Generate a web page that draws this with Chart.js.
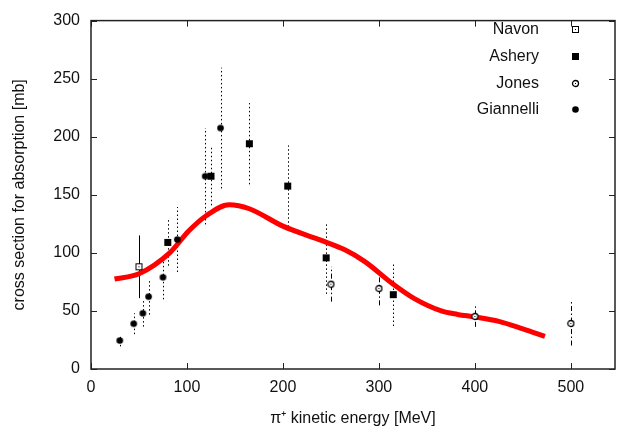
<!DOCTYPE html>
<html>
<head>
<meta charset="utf-8">
<script src="https://cdn.jsdelivr.net/npm/chart.js@4/dist/chart.umd.min.js"></script>
<style>
  html, body { margin: 0; padding: 0; background: #fff; }
  #wrap { width: 620px; height: 432px; position: relative; }
</style>
</head>
<body>
<div id="wrap"><canvas id="absChart"></canvas></div>
<script>
// pion absorption cross section data
const navonE = [50];
const navonS = [88];
const navonErr = [27];

const asheryE = [80, 125, 165, 205, 245, 315];
const asheryS = [109, 166, 194, 157.5, 95.7, 64];
const asheryErr = [20, 25, 35, 35, 31, 27];

const jonesE = [250, 300, 400, 500];
const jonesS = [73, 69.3, 45.3, 39.2];
const jonesErr = [15, 14.5, 9, 19];

const giannelliE = [30, 44.5, 54, 60, 75, 90, 119, 135];
const giannelliS = [24.5, 39, 48, 62.3, 79, 111.5, 166, 207.5];
const giannelliErr = [5, 9, 11.5, 15.5, 19, 28, 41.5, 52];

// model curve (red)
const modelE = [24.5, 50, 82, 102, 120, 144, 165, 200, 240, 265, 285, 315, 337, 365, 382, 400, 425, 450, 473];
const modelS = [77.5, 82, 100, 119, 132, 141.5, 138, 123, 110.7, 102.4, 92.7, 73, 60.6, 50, 47, 44.8, 41, 34.5, 28];

const xTicks = [0, 100, 200, 300, 400, 500];
const yTicks = [0, 50, 100, 150, 200, 250, 300];

const FONT = "'Liberation Sans', Arial, sans-serif";
const INK = "#111";

function toPoints(xs, ys) {
  return xs.map((x, i) => ({ x, y: ys[i] }));
}

// little canvases used as point markers (gnuplot-ish symbols)
function makeMarker(kind) {
  const c = document.createElement("canvas");
  c.width = 9;
  c.height = 9;
  const g = c.getContext("2d");
  g.strokeStyle = "#000";
  g.fillStyle = "#000";
  g.lineWidth = 1;
  if (kind === "boxdot") {
    g.fillStyle = "#fff";
    g.fillRect(1.5, 1.5, 6, 6);
    g.strokeRect(1.5, 1.5, 6, 6);
    g.fillStyle = "#000";
    g.fillRect(4, 4, 1, 1);
  } else if (kind === "box") {
    g.fillRect(1, 1, 7, 7);
  } else if (kind === "circdot") {
    g.fillStyle = "#fff";
    g.lineWidth = 1.3;
    g.beginPath();
    g.arc(4.5, 4.5, 3, 0, Math.PI * 2);
    g.fill();
    g.stroke();
    g.fillStyle = "#000";
    g.fillRect(4, 4, 1, 1);
  } else {
    g.beginPath();
    g.arc(4.5, 4.5, 3.3, 0, Math.PI * 2);
    g.fill();
  }
  return c;
}

const markers = {
  navon: makeMarker("boxdot"),
  ashery: makeMarker("box"),
  jones: makeMarker("circdot"),
  giannelli: makeMarker("dot"),
};

function pointSet(label, xs, ys, errs, marker, dash) {
  return {
    label,
    data: toPoints(xs, ys),
    errors: errs,
    errDash: dash,
    pointStyle: marker,
    pointRadius: 4,
    showLine: false,
  };
}

const datasets = [
  pointSet("Navon", navonE, navonS, navonErr, markers.navon, []),
  pointSet("Ashery", asheryE, asheryS, asheryErr, markers.ashery, [1.5, 2.5]),
  pointSet("Jones", jonesE, jonesS, jonesErr, markers.jones, [5, 2.5, 1.5, 2.5]),
  pointSet("Giannelli", giannelliE, giannelliS, giannelliErr, markers.giannelli, [1.5, 2.5]),
  {
    label: "model",
    data: toPoints(modelE, modelS),
    showLine: true,
    borderColor: "#ff0000",
    borderWidth: 5,
    pointRadius: 0,
    cubicInterpolationMode: "monotone",
    borderCapStyle: "butt",
    inLegend: false,
  },
];

// vertical error bars, drawn under everything else
const errorBars = {
  id: "errorBars",
  beforeDatasetsDraw(chart) {
    const { ctx, scales: { x, y } } = chart;
    ctx.save();
    ctx.beginPath();
    ctx.rect(chart.chartArea.left, chart.chartArea.top, chart.chartArea.width, chart.chartArea.height);
    ctx.clip();
    chart.data.datasets.forEach((ds) => {
      if (!ds.errors) return;
      ctx.strokeStyle = "#000";
      ctx.lineWidth = 1;
      ctx.setLineDash(ds.errDash || []);
      ds.data.forEach((p, i) => {
        const px = Math.round(x.getPixelForValue(p.x)) + 0.5;
        ctx.beginPath();
        ctx.moveTo(px, y.getPixelForValue(p.y - ds.errors[i]));
        ctx.lineTo(px, y.getPixelForValue(p.y + ds.errors[i]));
        ctx.stroke();
      });
    });
    ctx.restore();
  },
};

// frame with inward ticks on all four sides + key in the top right
const frameAndKey = {
  id: "frameAndKey",
  afterDraw(chart) {
    const { ctx, chartArea: a, scales: { x, y } } = chart;
    const tl = 6;
    ctx.save();
    ctx.strokeStyle = "#222";
    ctx.lineWidth = 1.5;
    ctx.setLineDash([]);
    ctx.strokeRect(a.left, a.top, a.right - a.left, a.bottom - a.top);
    ctx.lineWidth = 1;
    ctx.beginPath();
    x.ticks.forEach((t) => {
      const px = Math.round(x.getPixelForValue(t.value)) + 0.5;
      ctx.moveTo(px, a.bottom);
      ctx.lineTo(px, a.bottom - tl);
      ctx.moveTo(px, a.top);
      ctx.lineTo(px, a.top + tl);
    });
    y.ticks.forEach((t) => {
      const py = Math.round(y.getPixelForValue(t.value)) + 0.5;
      ctx.moveTo(a.left, py);
      ctx.lineTo(a.left + tl, py);
      ctx.moveTo(a.right, py);
      ctx.lineTo(a.right - tl, py);
    });
    ctx.stroke();

    // key
    ctx.font = "16px " + FONT;
    ctx.fillStyle = INK;
    ctx.textAlign = "right";
    ctx.textBaseline = "middle";
    let row = 0;
    chart.data.datasets.forEach((ds) => {
      if (ds.inLegend === false) return;
      const ry = 29.5 + row * 26.8;
      ctx.fillText(ds.label, 539, ry);
      const m = ds.pointStyle;
      ctx.drawImage(m, Math.round(575 - m.width / 2), Math.round(ry - m.height / 2));
      row++;
    });
    ctx.restore();
  },
};

new Chart(document.getElementById("absChart"), {
  type: "scatter",
  data: { datasets },
  options: {
    responsive: true,
    maintainAspectRatio: false,
    animation: false,
    layout: { padding: { top: 10, right: 1, bottom: 0, left: 0 } },
    plugins: {
      legend: { display: false },
      tooltip: { enabled: false },
    },
    scales: {
      x: {
        type: "linear",
        min: 0,
        max: 546,
        afterFit: (s) => { s.height = 63; },
        afterBuildTicks: (s) => { s.ticks = xTicks.map((v) => ({ value: v })); },
        grid: { display: false, drawTicks: false },
        border: { display: false },
        ticks: { color: INK, padding: 9, font: { family: FONT, size: 16 } },
        title: {
          display: true,
          text: "\u03c0\u207a kinetic energy [MeV]",
          color: INK,
          font: { family: FONT, size: 16 },
          padding: { top: 0, bottom: 4 },
        },
      },
      y: {
        type: "linear",
        min: 0,
        max: 300,
        afterFit: (s) => { s.width = 91; },
        afterBuildTicks: (s) => { s.ticks = yTicks.map((v) => ({ value: v })); },
        grid: { display: false, drawTicks: false },
        border: { display: false },
        ticks: { color: INK, padding: 11, font: { family: FONT, size: 16 } },
        title: {
          display: true,
          text: "cross section for absorption [mb]",
          color: INK,
          font: { family: FONT, size: 16 },
          padding: { top: 10, bottom: 0 },
        },
      },
    },
  },
  plugins: [errorBars, frameAndKey],
});
</script>
</body>
</html>
